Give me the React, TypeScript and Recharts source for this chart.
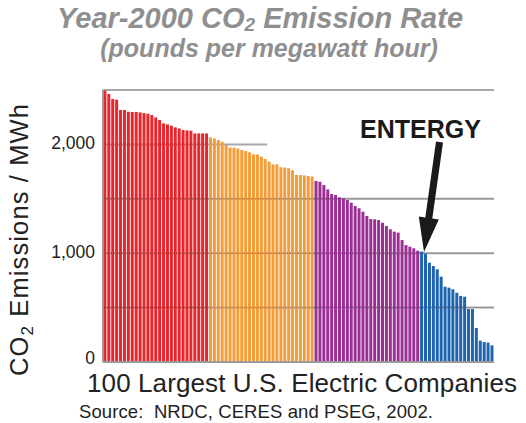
import React from "react";
import {
  BarChart,
  Bar,
  Cell,
  XAxis,
  YAxis,
  CartesianGrid,
  ReferenceLine,
} from "recharts";

// pounds of CO2 per MWh, largest 100 US utilities, sorted high to low
const redValues = [
  2495, 2463, 2417, 2411, 2316, 2316, 2300, 2298, 2298, 2294, 2288, 2282, 2270,
  2248, 2224, 2193, 2184, 2172, 2156, 2147, 2132, 2129, 2126, 2101, 2101, 2101,
  2101,
];
const orangeValues = [
  2064, 2055, 2040, 2025, 1994, 1970, 1970, 1963, 1948, 1939, 1927, 1908, 1908,
  1887, 1866, 1841, 1817, 1817, 1790, 1787, 1780, 1762, 1719, 1719, 1715, 1710,
  1705,
];
const purpleValues = [
  1664, 1657, 1627, 1587, 1544, 1535, 1513, 1504, 1489, 1464, 1434, 1413, 1381,
  1342, 1314, 1311, 1305, 1280, 1250, 1220, 1198, 1189, 1121, 1075, 1060, 1045,
  1023,
];
const blueValues = [
  1015, 995, 912, 882, 852, 784, 692, 683, 668, 637, 607, 600, 487, 487, 312,
  196, 184, 178, 153,
];

const yTicks = [0, 500, 1000, 1500, 2000, 2500];
const labelledTicks = [0, 1000, 2000];
const yMax = 2500;
// the ENTERGY label box hides the 2,000 grid line from this bar onwards
const labelBoxStart = 42;

const groups = [
  { values: redValues, color: "#e8262c" },
  { values: orangeValues, color: "#f49c38" },
  { values: purpleValues, color: "#9c2f95" },
  { values: blueValues, color: "#1e64b0" },
];

const chartData = groups
  .flatMap((g) => g.values.map((v) => ({ value: v, color: g.color })))
  .map((d, i) => ({ ...d, name: `U${i + 1}` }));

const font = '"Liberation Sans", Arial, Helvetica, sans-serif';
const gridColor = "#a9a9a9";

const renderGridLine = (props: any) => {
  const { x1, x2, y1, y, height, index } = props;
  const value = Math.round((yMax * (y + height - y1)) / height);
  const end =
    value === 2000 ? x1 + ((x2 - x1) * labelBoxStart) / chartData.length : x2;
  return (
    <line
      key={`grid-${index}`}
      x1={x1}
      x2={end}
      y1={y1}
      y2={y1}
      stroke={gridColor}
      strokeWidth={2}
    />
  );
};

const YTick = (props: any) => {
  const { x, y, payload } = props;
  const v = payload.value as number;
  if (!labelledTicks.includes(v)) return null;
  return (
    <text
      x={x}
      y={y}
      dy={v === 0 ? 2 : 5}
      textAnchor="end"
      fontSize={17.5}
      fill="#222"
      fontFamily={font}
    >
      {v.toLocaleString("en-US")}
    </text>
  );
};

export default function App() {
  return (
    <div
      style={{
        position: "absolute",
        left: 0,
        top: 0,
        width: 526,
        height: 423,
        background: "#fff",
        fontFamily: font,
      }}
    >
      <BarChart
        width={526}
        height={423}
        data={chartData}
        margin={{ top: 90, right: 32, left: 53, bottom: 31 }}
        barCategoryGap={0.4}
        style={{ fontFamily: font }}
      >
        <CartesianGrid vertical={false} horizontal={renderGridLine} />
        <XAxis
          dataKey="name"
          tick={false}
          tickLine={false}
          height={30}
          axisLine={{ stroke: "#9a9a9a", strokeWidth: 2 }}
        />
        <YAxis
          width={50}
          domain={[0, yMax]}
          ticks={yTicks}
          interval={0}
          tickLine={false}
          axisLine={{ stroke: "#9a9a9a", strokeWidth: 2 }}
          tick={<YTick />}
        />
        <Bar dataKey="value" isAnimationActive={false}>
          {chartData.map((d) => (
            <Cell key={d.name} fill={d.color} />
          ))}
        </Bar>
        {[500, 1000, 1500].map((v) => (
          <ReferenceLine
            key={v}
            y={v}
            stroke="#555"
            strokeOpacity={0.3}
            strokeWidth={1}
          />
        ))}
      </BarChart>

      <svg
        width={526}
        height={423}
        style={{ position: "absolute", left: 0, top: 0, pointerEvents: "none" }}
      >
        <text
          x={260}
          y={28}
          textAnchor="middle"
          fontSize={29}
          fontWeight="bold"
          fontStyle="italic"
          fill="#8f8f8f"
          fontFamily={font}
        >
          Year-2000 CO
          <tspan fontSize={19} dy={3}>
            2
          </tspan>
          <tspan dy={-3}> Emission Rate</tspan>
        </text>
        <text
          x={269}
          y={57}
          textAnchor="middle"
          fontSize={25}
          fontWeight="bold"
          fontStyle="italic"
          fill="#8f8f8f"
          fontFamily={font}
        >
          (pounds per megawatt hour)
        </text>

        <text
          transform="translate(28, 240) rotate(-90)"
          textAnchor="middle"
          fontSize={25.5}
          fill="#222"
          fontFamily={font}
          textLength={272}
          lengthAdjust="spacing"
        >
          CO
          <tspan fontSize={17} dy={5}>
            2
          </tspan>
          <tspan dy={-5}> Emissions / MWh</tspan>
        </text>

        <text
          x={87}
          y={392}
          fontSize={26}
          fill="#222"
          fontFamily={font}
          textLength={430}
          lengthAdjust="spacing"
        >
          100 Largest U.S. Electric Companies
        </text>
        <text
          x={79}
          y={418}
          fontSize={18.5}
          fill="#222"
          fontFamily={font}
          style={{ whiteSpace: "pre" }}
          textLength={354}
          lengthAdjust="spacing"
        >
          Source:  NRDC, CERES and PSEG, 2002.
        </text>

        <text
          x={360}
          y={138}
          fontSize={25}
          fontWeight="bold"
          fill="#1a1a1a"
          fontFamily={font}
        >
          ENTERGY
        </text>
        <polygon
          points="436,141.5 443,142.5 432.3,218.5 438.8,219.4 424,252 418.8,216.6 425.3,217.5"
          fill="#1a1a1a"
        />
      </svg>
    </div>
  );
}
